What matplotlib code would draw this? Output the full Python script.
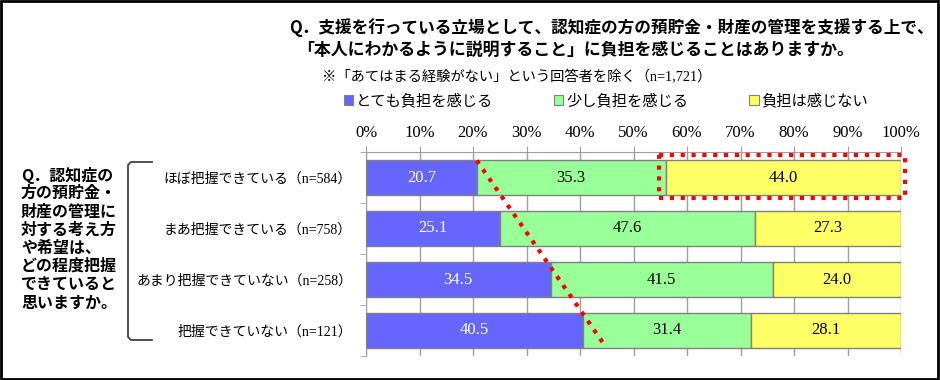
import matplotlib
matplotlib.use("Agg")
import matplotlib.pyplot as plt
from matplotlib.patches import Rectangle
from matplotlib.lines import Line2D
import numpy as np

categories = ["ほぼ把握できている（n=584）", "まあ把握できている（n=758）",
              "あまり把握できていない（n=258）", "把握できていない（n=121）"]
series_names = ["とても負担を感じる", "少し負担を感じる", "負担は感じない"]
very = [20.7, 25.1, 34.5, 40.5]
some = [35.3, 47.6, 41.5, 31.4]
none_ = [44.0, 27.3, 24.0, 28.1]
xticks = [0, 10, 20, 30, 40, 50, 60, 70, 80, 90, 100]

colors = ["#6666FF", "#99FF99", "#FFFF66"]
txtcolors = ["white", "black", "black"]

JP = "Noto Sans CJK JP"
SERIF_JP = ["Liberation Serif", "Noto Sans CJK JP"]

fig = plt.figure(figsize=(9.4, 3.8), dpi=100)
W, H = 940, 380

ax = fig.add_axes([366 / W, (H - 356) / H, 535 / W, 204 / H])
y = np.arange(len(categories))
bh = 0.667
left = np.zeros(len(categories))
for vals, c, tc in zip([very, some, none_], colors, txtcolors):
    bars = ax.barh(y, vals, left=left, height=bh, color=c, edgecolor="#808080",
                   linewidth=1.0, zorder=3)
    for b, v in zip(bars, vals):
        ax.text(b.get_x() + b.get_width() / 2, b.get_y() + b.get_height() / 2,
                f"{v:.1f}", ha="center", va="center", color=tc,
                fontsize=12, family="Liberation Serif", zorder=5)
    left = left + np.array(vals)

ax.set_xlim(0, 100)
ax.set_ylim(3.5, -0.5)
ax.xaxis.tick_top()
ax.set_xticks(xticks)
ax.set_xticklabels([f"{t}%" for t in xticks], family="Liberation Serif", fontsize=12)
ax.tick_params(axis="x", length=4, color="#A0A0A0", pad=4)
ax.grid(axis="x", color="#A0A0A0", linewidth=1.0, zorder=0)
ax.set_yticks(y)
ax.set_yticklabels(categories, fontsize=10, family=SERIF_JP)
ax.tick_params(axis="y", which="major", length=0, pad=10)
ax.set_yticks(np.arange(-0.5, 3.6, 1.0), minor=True)
ax.tick_params(axis="y", which="minor", length=4, color="#A0A0A0")
for s in ["bottom", "right"]:
    ax.spines[s].set_visible(False)
for s in ["top", "left"]:
    ax.spines[s].set_color("#A0A0A0")
ax.set_axisbelow(True)

# red dotted trend line through the ends of the first and last blue bars
y0 = y[0] - bh / 2
y3 = y[-1] - bh / 2
slope = (very[-1] - very[0]) / (y3 - y0)
yend = y[-1] + bh / 2
ax.add_line(Line2D([very[0], very[0] + slope * (yend - y0)], [y0, yend],
                   color="red", linewidth=3, linestyle=(0, (1, 1.6)),
                   zorder=6, clip_on=False))

# red dotted rectangle around the "負担は感じない" segment of row 0
rx0 = very[0] + some[0] - 1.2
rect = Rectangle((rx0, y[0] - bh / 2 - 0.117), 100.7 - rx0, bh + 0.195,
                 fill=False, edgecolor="red", linewidth=3,
                 linestyle=(0, (1, 1.6)), zorder=6, clip_on=False)
ax.add_patch(rect)

# Titles
fig.text(289 / W, 1 - 28 / H,
         "Q．支援を行っている立場として、認知症の方の預貯金・財産の管理を支援する上で、",
         family=JP, fontweight="bold", fontsize=12, va="center", ha="left")
fig.text(297 / W, 1 - 50 / H,
         "「本人にわかるように説明すること」に負担を感じることはありますか。",
         family=JP, fontweight="bold", fontsize=12.2, va="center", ha="left")
fig.text(322 / W, 1 - 77 / H,
         "※「あてはまる経験がない」という回答者を除く（n=1,721）",
         family=SERIF_JP, fontsize=10.3, va="center", ha="left")

# Legend
handles = [Rectangle((0, 0), 1, 1, facecolor=c, edgecolor="#808080", linewidth=0.8)
           for c in colors]
leg = fig.legend(handles, series_names, loc="center", bbox_to_anchor=(606 / W, 1 - 101 / H),
                 ncol=3, frameon=False, prop={"family": JP, "size": 11},
                 handlelength=0.6, handleheight=0.6, handletextpad=0.2,
                 columnspacing=4.0)

# Left question block
qlines = ["Q．認知症の", "方の預貯金・", "財産の管理に", "対する考え方",
          "や希望は、", "どの程度把握", "できていると", "思いますか。"]
for i, ln in enumerate(qlines):
    fig.text(21 / W, 1 - (175 + i * 18.2) / H, ln, family=JP, fontweight="bold",
             fontsize=11.5, va="center", ha="left")

# bracket
bx0, bx1, by0, by1 = 128, 152, 162, 340
fig.add_artist(Line2D([bx1 / W, (bx0 + 3) / W, bx0 / W, bx0 / W, (bx0 + 3) / W, bx1 / W],
                      [1 - by0 / H, 1 - by0 / H, 1 - (by0 + 3) / H, 1 - (by1 - 3) / H,
                       1 - by1 / H, 1 - by1 / H],
                      color="#404040", linewidth=1.3))

# outer border
fig.add_artist(Rectangle((0.001, 0.002), 0.997, 0.996, transform=fig.transFigure,
                         fill=False, edgecolor="black", linewidth=2))

fig.savefig("out.png", dpi=100)
